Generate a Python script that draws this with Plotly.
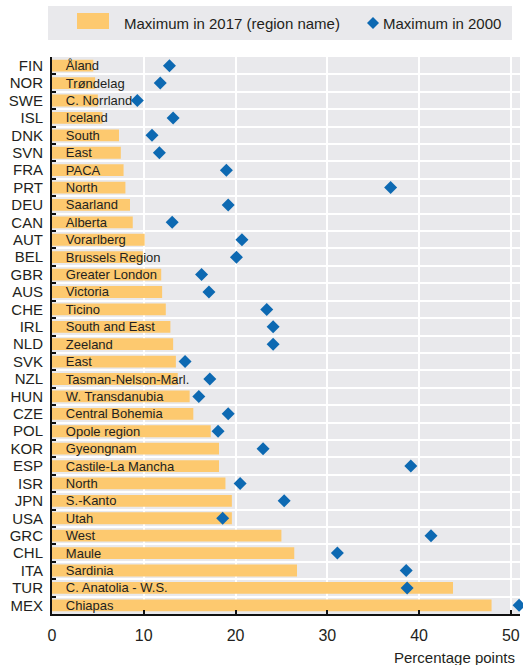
import plotly.graph_objects as go

countries = ["FIN", "NOR", "SWE", "ISL", "DNK", "SVN", "FRA", "PRT", "DEU", "CAN",
             "AUT", "BEL", "GBR", "AUS", "CHE", "IRL", "NLD", "SVK", "NZL", "HUN",
             "CZE", "POL", "KOR", "ESP", "ISR", "JPN", "USA", "GRC", "CHL", "ITA",
             "TUR", "MEX"]
regions = ["Åland", "Trøndelag", "C. Norrland", "Iceland", "South", "East", "PACA", "North",
           "Saarland", "Alberta", "Vorarlberg", "Brussels Region", "Greater London", "Victoria",
           "Ticino", "South and East", "Zeeland", "East", "Tasman-Nelson-Marl.",
           "W. Transdanubia", "Central Bohemia", "Opole region", "Gyeongnam",
           "Castile-La Mancha", "North", "S.-Kanto", "Utah", "West", "Maule", "Sardinia",
           "C. Anatolia - W.S.", "Chiapas"]
max_2017 = [4.5, 4.7, 5.0, 5.5, 7.3, 7.5, 7.8, 8.0, 8.5, 8.8,
            10.1, 9.9, 11.9, 12.0, 12.4, 12.9, 13.2, 13.5, 13.7, 15.0,
            15.4, 17.3, 18.2, 18.2, 18.9, 19.6, 19.6, 25.0, 26.4, 26.7,
            43.7, 47.9]
max_2000 = [12.8, 11.8, 9.3, 13.2, 10.9, 11.7, 19.0, 36.9, 19.2, 13.1,
            20.7, 20.1, 16.3, 17.1, 23.4, 24.1, 24.1, 14.5, 17.2, 16.0,
            19.2, 18.1, 23.0, 39.1, 20.5, 25.3, 18.6, 41.3, 31.1, 38.6,
            38.7, 50.9]
x_ticks = [0, 10, 20, 30, 40, 50]

BAR = "#FDC96F"
BLUE = "#0D69B2"
BG = "#E9E9EC"
TXT = "#231F20"
FONT = "Liberation Sans, Arial, sans-serif"

fig = go.Figure()
fig.add_trace(go.Bar(
    y=countries, x=max_2017, orientation="h",
    marker=dict(color=BAR, line=dict(width=0)),
    text=regions, texttemplate="\u00a0\u00a0\u00a0%{text}",
    textposition="inside", insidetextanchor="start", constraintext="none",
    textangle=0, insidetextfont=dict(family=FONT, size=13, color=TXT),
    cliponaxis=False, showlegend=False, name="Maximum in 2017 (region name)",
))
fig.add_trace(go.Scatter(
    y=countries, x=max_2000, mode="markers",
    marker=dict(symbol="diamond", size=10, color=BLUE),
    cliponaxis=False, showlegend=False, name="Maximum in 2000",
))

W, H = 523, 665
L, R, T, B = 52, 3, 57, 51
pw, ph = W - L - R, H - T - B


def px(x):
    return (x - L) / pw


def py(y):
    return (H - B - y) / ph


shapes = [
    dict(type="rect", xref="paper", yref="paper", x0=px(48), x1=px(512), y0=py(40), y1=py(6),
         fillcolor=BG, line=dict(width=0), layer="below"),
    dict(type="rect", xref="paper", yref="paper", x0=px(77), x1=px(109), y0=py(29), y1=py(13),
         fillcolor=BAR, line=dict(width=0)),
]
cx, cy, hw, hh = px(373), py(23), 6 / pw, 6 / ph
shapes.append(dict(type="path", xref="paper", yref="paper",
                   path=f"M{cx-hw},{cy} L{cx},{cy+hh} L{cx+hw},{cy} L{cx},{cy-hh} Z",
                   fillcolor=BLUE, line=dict(width=0)))

annotations = [
    dict(text="Maximum in 2017 (region name)", xref="paper", yref="paper", x=px(122), y=cy,
         xanchor="left", yanchor="middle", showarrow=False,
         font=dict(family=FONT, size=15, color=TXT)),
    dict(text="Maximum in 2000", xref="paper", yref="paper", x=px(381), y=cy,
         xanchor="left", yanchor="middle", showarrow=False,
         font=dict(family=FONT, size=15, color=TXT)),
    dict(text="Percentage points", xref="paper", yref="paper", x=px(517), y=py(657),
         xanchor="right", yanchor="middle", showarrow=False,
         font=dict(family=FONT, size=15, color=TXT)),
]

n = len(countries)
fig.update_layout(
    template="none",
    width=W, height=H, margin=dict(l=L, r=R, t=T, b=B, autoexpand=False),
    paper_bgcolor="white", plot_bgcolor=BG,
    bargap=0.32, shapes=shapes, annotations=annotations,
    font=dict(family=FONT, color=TXT),
    xaxis=dict(range=[0, 51], tickvals=x_ticks, ticktext=[str(v) for v in x_ticks],
               automargin=False,
               showgrid=True, gridcolor="white", gridwidth=2, zeroline=False,
               showline=True, linecolor="#111", linewidth=2, ticks="inside", ticklen=4,
               tickcolor="#111", tickwidth=1.5, tickfont=dict(size=16, family=FONT, color=TXT),
               ticklabelstandoff=6),
    yaxis=dict(type="category", range=[n - 0.5, -0.5], tickson="boundaries",
               tickmode="array", tickvals=countries, ticktext=countries,
               automargin=False,
               showgrid=True, gridcolor="white", gridwidth=2, zeroline=False,
               showline=True, linecolor="#111", linewidth=2, ticks="inside", ticklen=4,
               tickcolor="#111", tickwidth=1.5, tickfont=dict(size=15, family=FONT, color=TXT),
               ticklabelstandoff=4),
)

fig.write_html("out.html", config={"displayModeBar": False},
               post_script="document.body.style.margin='0';")
